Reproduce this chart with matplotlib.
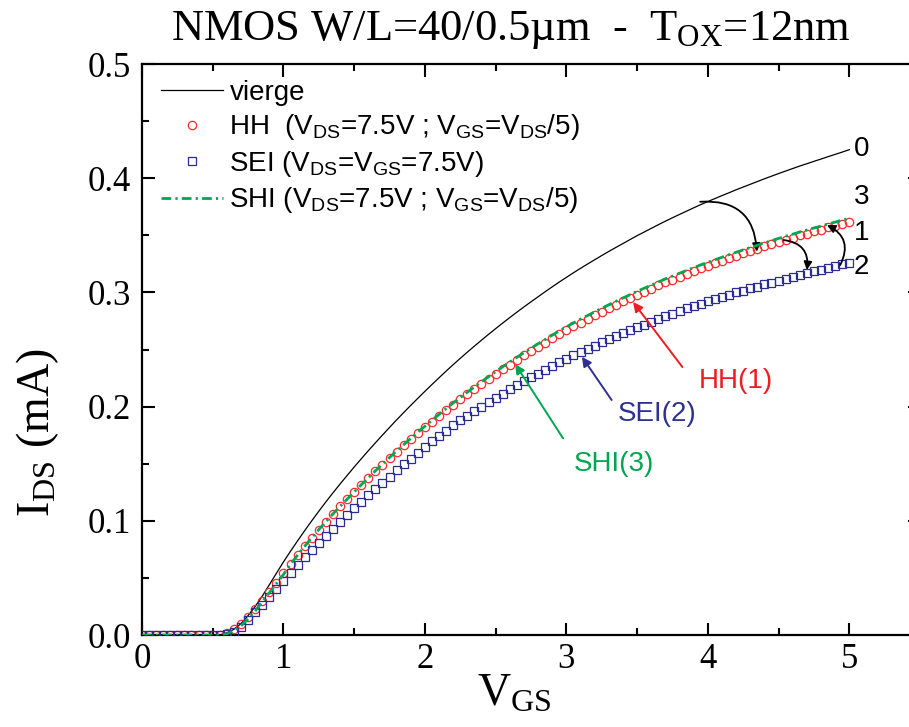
import numpy as np
import matplotlib
matplotlib.use("Agg")
import matplotlib.pyplot as plt
from matplotlib.ticker import MultipleLocator, FormatStrFormatter

# V_GS sweep (V), 0 -> 5 V in 50 mV steps
vgs = np.round(np.arange(0, 101) * 0.05, 2)

# I_DS (mA)
vierge = [0, 0, 0, 0, 0, 0, 0, 0, 0, 0, 0, 0,
          0.002, 0.005, 0.010, 0.017, 0.025, 0.034, 0.044, 0.054,
          0.0640, 0.0734, 0.0825, 0.0914, 0.1000, 0.1084, 0.1166, 0.1245, 0.1322, 0.1397,
          0.1471, 0.1543, 0.1614, 0.1683, 0.1751, 0.1818, 0.1884, 0.1948, 0.2011, 0.2073,
          0.2134, 0.2194, 0.2253, 0.2311, 0.2368, 0.2423, 0.2477, 0.2530, 0.2582, 0.2633,
          0.2683, 0.2732, 0.2780, 0.2827, 0.2873, 0.2918, 0.2962, 0.3006, 0.3049, 0.3091,
          0.3132, 0.3172, 0.3211, 0.3249, 0.3286, 0.3323, 0.3359, 0.3394, 0.3428, 0.3463,
          0.3497, 0.3529, 0.3561, 0.3593, 0.3624, 0.3654, 0.3683, 0.3712, 0.3741, 0.3769,
          0.3796, 0.3822, 0.3848, 0.3873, 0.3899, 0.3923, 0.3947, 0.3971, 0.3995, 0.4018,
          0.4041, 0.4063, 0.4085, 0.4107, 0.4127, 0.4148, 0.4168, 0.4189, 0.4209, 0.4229,
          0.4250]

hh = [0, 0, 0, 0, 0, 0, 0, 0, 0, 0, 0, 0,
      0.002, 0.005, 0.010, 0.016, 0.023, 0.030, 0.038, 0.046,
      0.0540, 0.0620, 0.0700, 0.0777, 0.0852, 0.0924, 0.0993, 0.1061, 0.1126, 0.1190,
      0.1253, 0.1315, 0.1375, 0.1434, 0.1492, 0.1549, 0.1605, 0.1660, 0.1713, 0.1766,
      0.1818, 0.1869, 0.1920, 0.1969, 0.2018, 0.2064, 0.2110, 0.2156, 0.2200, 0.2243,
      0.2286, 0.2328, 0.2369, 0.2409, 0.2448, 0.2486, 0.2524, 0.2561, 0.2598, 0.2634,
      0.2668, 0.2703, 0.2736, 0.2768, 0.2800, 0.2831, 0.2862, 0.2892, 0.2921, 0.2950,
      0.2979, 0.3007, 0.3034, 0.3061, 0.3088, 0.3113, 0.3138, 0.3163, 0.3187, 0.3211,
      0.3234, 0.3256, 0.3278, 0.3300, 0.3322, 0.3342, 0.3363, 0.3383, 0.3404, 0.3423,
      0.3443, 0.3462, 0.3480, 0.3499, 0.3516, 0.3534, 0.3551, 0.3569, 0.3586, 0.3603,
      0.3621]

sei = [0, 0, 0, 0, 0, 0, 0, 0, 0, 0, 0, 0,
       0.001, 0.003, 0.007, 0.013, 0.020, 0.026, 0.033, 0.040,
       0.0470, 0.0540, 0.0610, 0.0680, 0.0747, 0.0809, 0.0868, 0.0930, 0.0991, 0.1051,
       0.1110, 0.1168, 0.1224, 0.1279, 0.1332, 0.1387, 0.1441, 0.1494, 0.1545, 0.1596,
       0.1646, 0.1695, 0.1744, 0.1791, 0.1838, 0.1879, 0.1920, 0.1961, 0.2000, 0.2038,
       0.2076, 0.2114, 0.2151, 0.2187, 0.2222, 0.2256, 0.2290, 0.2323, 0.2356, 0.2388,
       0.2418, 0.2449, 0.2478, 0.2507, 0.2535, 0.2562, 0.2590, 0.2616, 0.2641, 0.2667,
       0.2694, 0.2719, 0.2744, 0.2768, 0.2793, 0.2815, 0.2838, 0.2860, 0.2882, 0.2903,
       0.2924, 0.2943, 0.2962, 0.2981, 0.3000, 0.3017, 0.3035, 0.3052, 0.3070, 0.3086,
       0.3103, 0.3120, 0.3136, 0.3153, 0.3168, 0.3184, 0.3199, 0.3215, 0.3230, 0.3245,
       0.3261]

shi = [0, 0, 0, 0, 0, 0, 0, 0, 0, 0, 0, 0,
       0.001, 0.004, 0.008, 0.014, 0.021, 0.029, 0.037, 0.045,
       0.0530, 0.0620, 0.0700, 0.0777, 0.0852, 0.0924, 0.0993, 0.1061, 0.1126, 0.1190,
       0.1253, 0.1316, 0.1377, 0.1438, 0.1497, 0.1555, 0.1612, 0.1668, 0.1722, 0.1776,
       0.1828, 0.1880, 0.1932, 0.1982, 0.2032, 0.2079, 0.2126, 0.2173, 0.2218, 0.2262,
       0.2306, 0.2349, 0.2391, 0.2432, 0.2472, 0.2511, 0.2550, 0.2588, 0.2626, 0.2663,
       0.2698, 0.2733, 0.2766, 0.2798, 0.2830, 0.2861, 0.2892, 0.2922, 0.2951, 0.2980,
       0.3009, 0.3037, 0.3064, 0.3091, 0.3118, 0.3143, 0.3168, 0.3193, 0.3217, 0.3241,
       0.3264, 0.3286, 0.3308, 0.3330, 0.3352, 0.3372, 0.3393, 0.3413, 0.3434, 0.3453,
       0.3473, 0.3492, 0.3510, 0.3529, 0.3546, 0.3564, 0.3581, 0.3599, 0.3616, 0.3633,
       0.3651]

labels = ["vierge",
          r"HH  (V$_{DS}$=7.5V ; V$_{GS}$=V$_{DS}$/5)",
          r"SEI (V$_{DS}$=V$_{GS}$=7.5V)",
          r"SHI (V$_{DS}$=7.5V ; V$_{GS}$=V$_{DS}$/5)"]

RED = "#ed1c24"
NAVY = "#2e3192"
GREEN = "#00a651"
SANS = "Liberation Sans"

plt.rcParams["font.family"] = "serif"
plt.rcParams["font.serif"] = ["Liberation Serif"]
plt.rcParams["mathtext.default"] = "regular"


def main():
    fig = plt.figure(figsize=(9.09, 7.27), dpi=100)
    ax = fig.add_axes([0.1562, 0.1265, 0.8559, 0.7854])

    ax.plot(vgs, vierge, color="black", lw=0.9, label=labels[0], zorder=2)
    ax.plot(vgs, hh, ls="none", marker="o", ms=6, mfc="none", mec="#ff2a2a",
            mew=0.9, label=labels[1], zorder=3)
    ax.plot(vgs, sei, ls="none", marker="s", ms=5.5, mfc="none", mec="#2b2b96",
            mew=0.9, label=labels[2], zorder=3)
    ax.plot(vgs, shi, color=GREEN, lw=2, ls=(0, (3.5, 1.5, 0.8, 1.5)),
            label=labels[3], zorder=4)

    ax.set_xlim(0, 5.5)
    ax.set_ylim(0, 0.5)
    ax.xaxis.set_major_locator(MultipleLocator(1))
    ax.xaxis.set_minor_locator(MultipleLocator(0.5))
    ax.yaxis.set_major_locator(MultipleLocator(0.1))
    ax.yaxis.set_minor_locator(MultipleLocator(0.05))
    ax.yaxis.set_major_formatter(FormatStrFormatter("%.1f"))
    ax.tick_params(which="both", direction="in", top=True, right=True, width=1.5,
                   labelsize=25)
    ax.tick_params(which="major", length=9)
    ax.tick_params(which="minor", length=5)
    ax.tick_params(axis="y", pad=8)
    ax.tick_params(axis="x", pad=6)
    for s in ax.spines.values():
        s.set_linewidth(1.6)

    ax.legend(loc="upper left", bbox_to_anchor=(0.0, 1.006), frameon=False,
              prop={"family": SANS, "size": 20}, handlelength=2.2,
              handletextpad=0.25, labelspacing=0.23, borderaxespad=0.3,
              numpoints=1)

    # end labels
    for txt, y in [("0", 0.426), ("3", 0.384), ("1", 0.3517), ("2", 0.3225)]:
        ax.text(5.03, y, txt, family=SANS, fontsize=20, ha="left", va="center")

    # stress labels with arrows
    ax.text(4.20, 0.2224, "HH(1)", family=SANS, fontsize=20, color=RED,
            ha="center", va="center")
    ax.text(3.64, 0.1935, "SEI(2)", family=SANS, fontsize=20, color=NAVY,
            ha="center", va="center")
    ax.text(3.34, 0.1497, "SHI(3)", family=SANS, fontsize=20, color=GREEN,
            ha="center", va="center")
    for head, tail, c in [((3.472, 0.2916), (3.82, 0.2347), RED),
                          ((3.11, 0.2437), (3.32, 0.2058), NAVY),
                          ((2.638, 0.2373), (2.977, 0.1722), GREEN)]:
        ax.annotate("", xy=head, xytext=tail,
                    arrowprops=dict(arrowstyle="-|>", color=c, lw=1.4,
                                    mutation_scale=14, shrinkA=0, shrinkB=0))

    # curved arrows between curves
    for head, tail, rad in [((4.347, 0.3357), (3.946, 0.3794), -0.5),
                            ((4.70, 0.3196), (4.535, 0.3459), -0.5),
                            ((4.842, 0.359), (4.936, 0.324), 0.5)]:
        ax.annotate("", xy=head, xytext=tail,
                    arrowprops=dict(arrowstyle="-|>", color="black", lw=1.3,
                                    mutation_scale=12, shrinkA=0, shrinkB=0,
                                    connectionstyle=f"arc3,rad={rad}"))

    fig.text(0.562, 0.988, r"NMOS W/L=40/0.5µm  -  T$_{OX}$=12nm",
             ha="center", va="top", fontsize=32)
    fig.text(0.041, 0.405, r"I$_{DS}$ (mA)", rotation=90, ha="center",
             va="center", fontsize=33)
    fig.text(0.566, 0.045, r"V$_{GS}$", ha="center", va="center", fontsize=33)

    fig.savefig("out.png", dpi=100)


if __name__ == "__main__":
    main()
